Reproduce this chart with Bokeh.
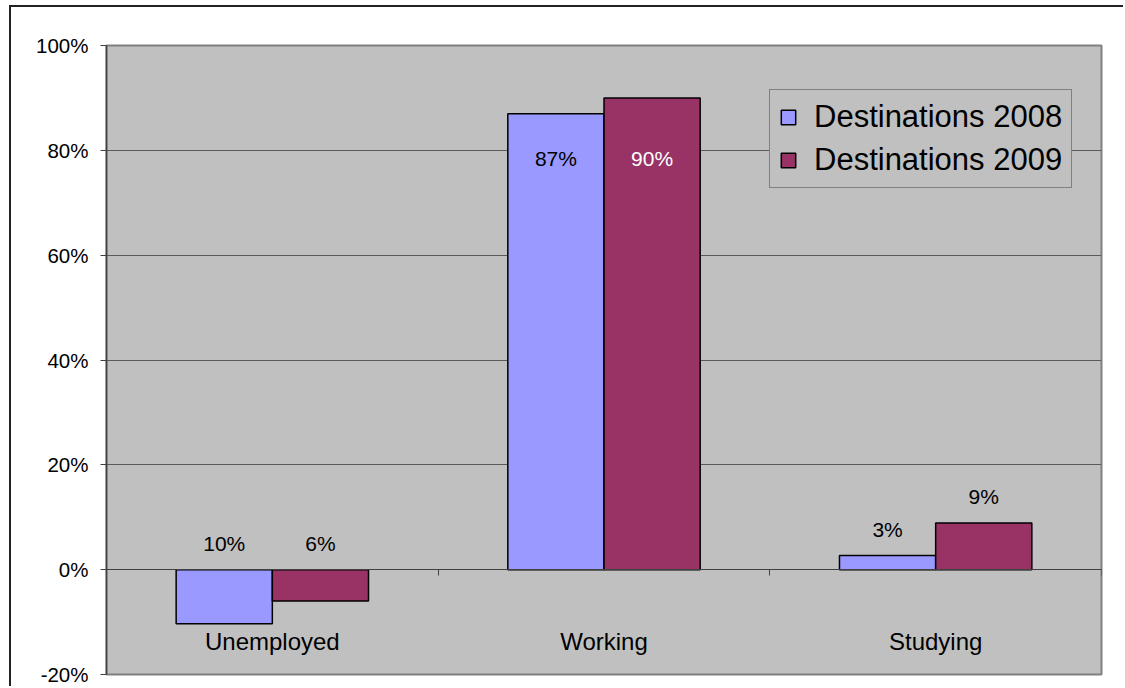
import numpy as np
from bokeh.plotting import figure
from bokeh.models import (FixedTicker, NumeralTickFormatter, ColumnDataSource, Legend,
                          LegendItem, Range1d, CustomJSTickFormatter)
from bokeh.core.properties import value
from bokeh.embed import file_html
from bokeh.resources import INLINE

# ---- data ----
categories = ["Unemployed", "Working", "Studying"]
series_names = ["Destinations 2008", "Destinations 2009"]
values_2008 = [-0.103, 0.870, 0.027]
values_2009 = [-0.060, 0.900, 0.089]
labels_2008 = ["10%", "87%", "3%"]
labels_2009 = ["6%", "90%", "9%"]
y_ticks = [-0.2, 0.0, 0.2, 0.4, 0.6, 0.8, 1.0]

Y_MIN, Y_MAX = -0.2, 1.0
FONT = "Liberation Sans"
C2008 = "#9999FF"
C2009 = "#993366"

p = figure(width=1114, height=681, x_range=Range1d(0, len(categories)),
           y_range=Range1d(Y_MIN, Y_MAX), output_backend="svg", toolbar_location=None,
           min_border_left=95, min_border_right=24, min_border_top=38, min_border_bottom=14)
p.styles = {"border-top": "2px solid #222222", "border-left": "2px solid #222222",
            "margin-left": "9px", "margin-top": "5px"}
p.background_fill_color = "#C0C0C0"
p.border_fill_color = "white"
p.outline_line_color = "#808080"
p.outline_line_width = 2

p.xgrid.visible = False
p.ygrid.ticker = FixedTicker(ticks=y_ticks)
p.ygrid.grid_line_color = "#5a5a5a"
p.ygrid.grid_line_width = 1

# y axis
p.yaxis.ticker = FixedTicker(ticks=y_ticks)
p.yaxis.formatter = NumeralTickFormatter(format="0%")
p.yaxis.axis_line_color = "#404040"
p.yaxis.axis_line_width = 1.5
p.yaxis.major_tick_line_color = "#404040"
p.yaxis.major_tick_out = 6
p.yaxis.major_tick_in = 0
p.yaxis.minor_tick_line_color = None
p.yaxis.major_label_text_font = FONT
p.yaxis.major_label_text_font_size = "20.5px"
p.yaxis.major_label_text_color = "black"
p.yaxis.major_label_standoff = 12

# x axis at zero with ticks between categories
p.xaxis.fixed_location = 0
p.xaxis.ticker = FixedTicker(ticks=list(range(1, len(categories) + 1)))
p.xaxis.formatter = CustomJSTickFormatter(code="return ''")
p.xaxis.axis_line_color = "#404040"
p.xaxis.major_tick_line_color = "#404040"
p.xaxis.major_tick_out = 6
p.xaxis.major_tick_in = 0
p.xaxis.minor_tick_line_color = None

# bars
centers = np.arange(len(categories)) + 0.5
bw = 0.29
r1 = p.vbar(x=centers - bw / 2, top=values_2008, bottom=0, width=bw,
            fill_color=C2008, line_color="black", line_width=1.5)
r2 = p.vbar(x=centers + bw / 2, top=values_2009, bottom=0, width=bw,
            fill_color=C2009, line_color="black", line_width=1.5)

# data labels
def label_rows(vals, pair_other, shift, labels, dark):
    xs, ys, cols = [], [], []
    for i, v in enumerate(vals):
        if v > 0.5:  # inside end
            ys.append(min(v, pair_other[i]) - 0.085)
            cols.append("white" if dark else "black")
        else:
            ys.append(max(v, 0) + 0.05)
            cols.append("black")
        xs.append(centers[i] + shift)
    return dict(x=xs, y=ys, text=labels, color=cols)

src1 = ColumnDataSource(label_rows(values_2008, values_2009, -bw / 2, labels_2008, False))
src2 = ColumnDataSource(label_rows(values_2009, values_2008, bw / 2, labels_2009, True))
for s in (src1, src2):
    p.text(x="x", y="y", text="text", text_color="color", source=s,
           text_align="center", text_baseline="middle",
           text_font=value(FONT), text_font_size=value("21px"))

# category labels near the bottom
p.text(x=centers, y=[Y_MIN + 0.063] * len(categories), text=categories,
       text_align="center", text_baseline="middle", text_color="black",
       text_font=value(FONT), text_font_size=value("24px"))

legend = Legend(items=[LegendItem(label=series_names[0], renderers=[r1]),
                       LegendItem(label=series_names[1], renderers=[r2])],
                location=(663, 486))
legend.background_fill_color = "#C0C0C0"
legend.background_fill_alpha = 1
legend.border_line_color = "#404040"
legend.border_line_width = 1.2
legend.label_text_font = FONT
legend.label_text_font_size = "31px"
legend.label_text_color = "black"
legend.glyph_width = 18
legend.glyph_height = 18
legend.label_height = 36
legend.spacing = 7
legend.padding = 9
legend.margin = 0
legend.label_standoff = 17
p.add_layout(legend, "center")

open("out.html", "w").write(file_html(p, INLINE))
